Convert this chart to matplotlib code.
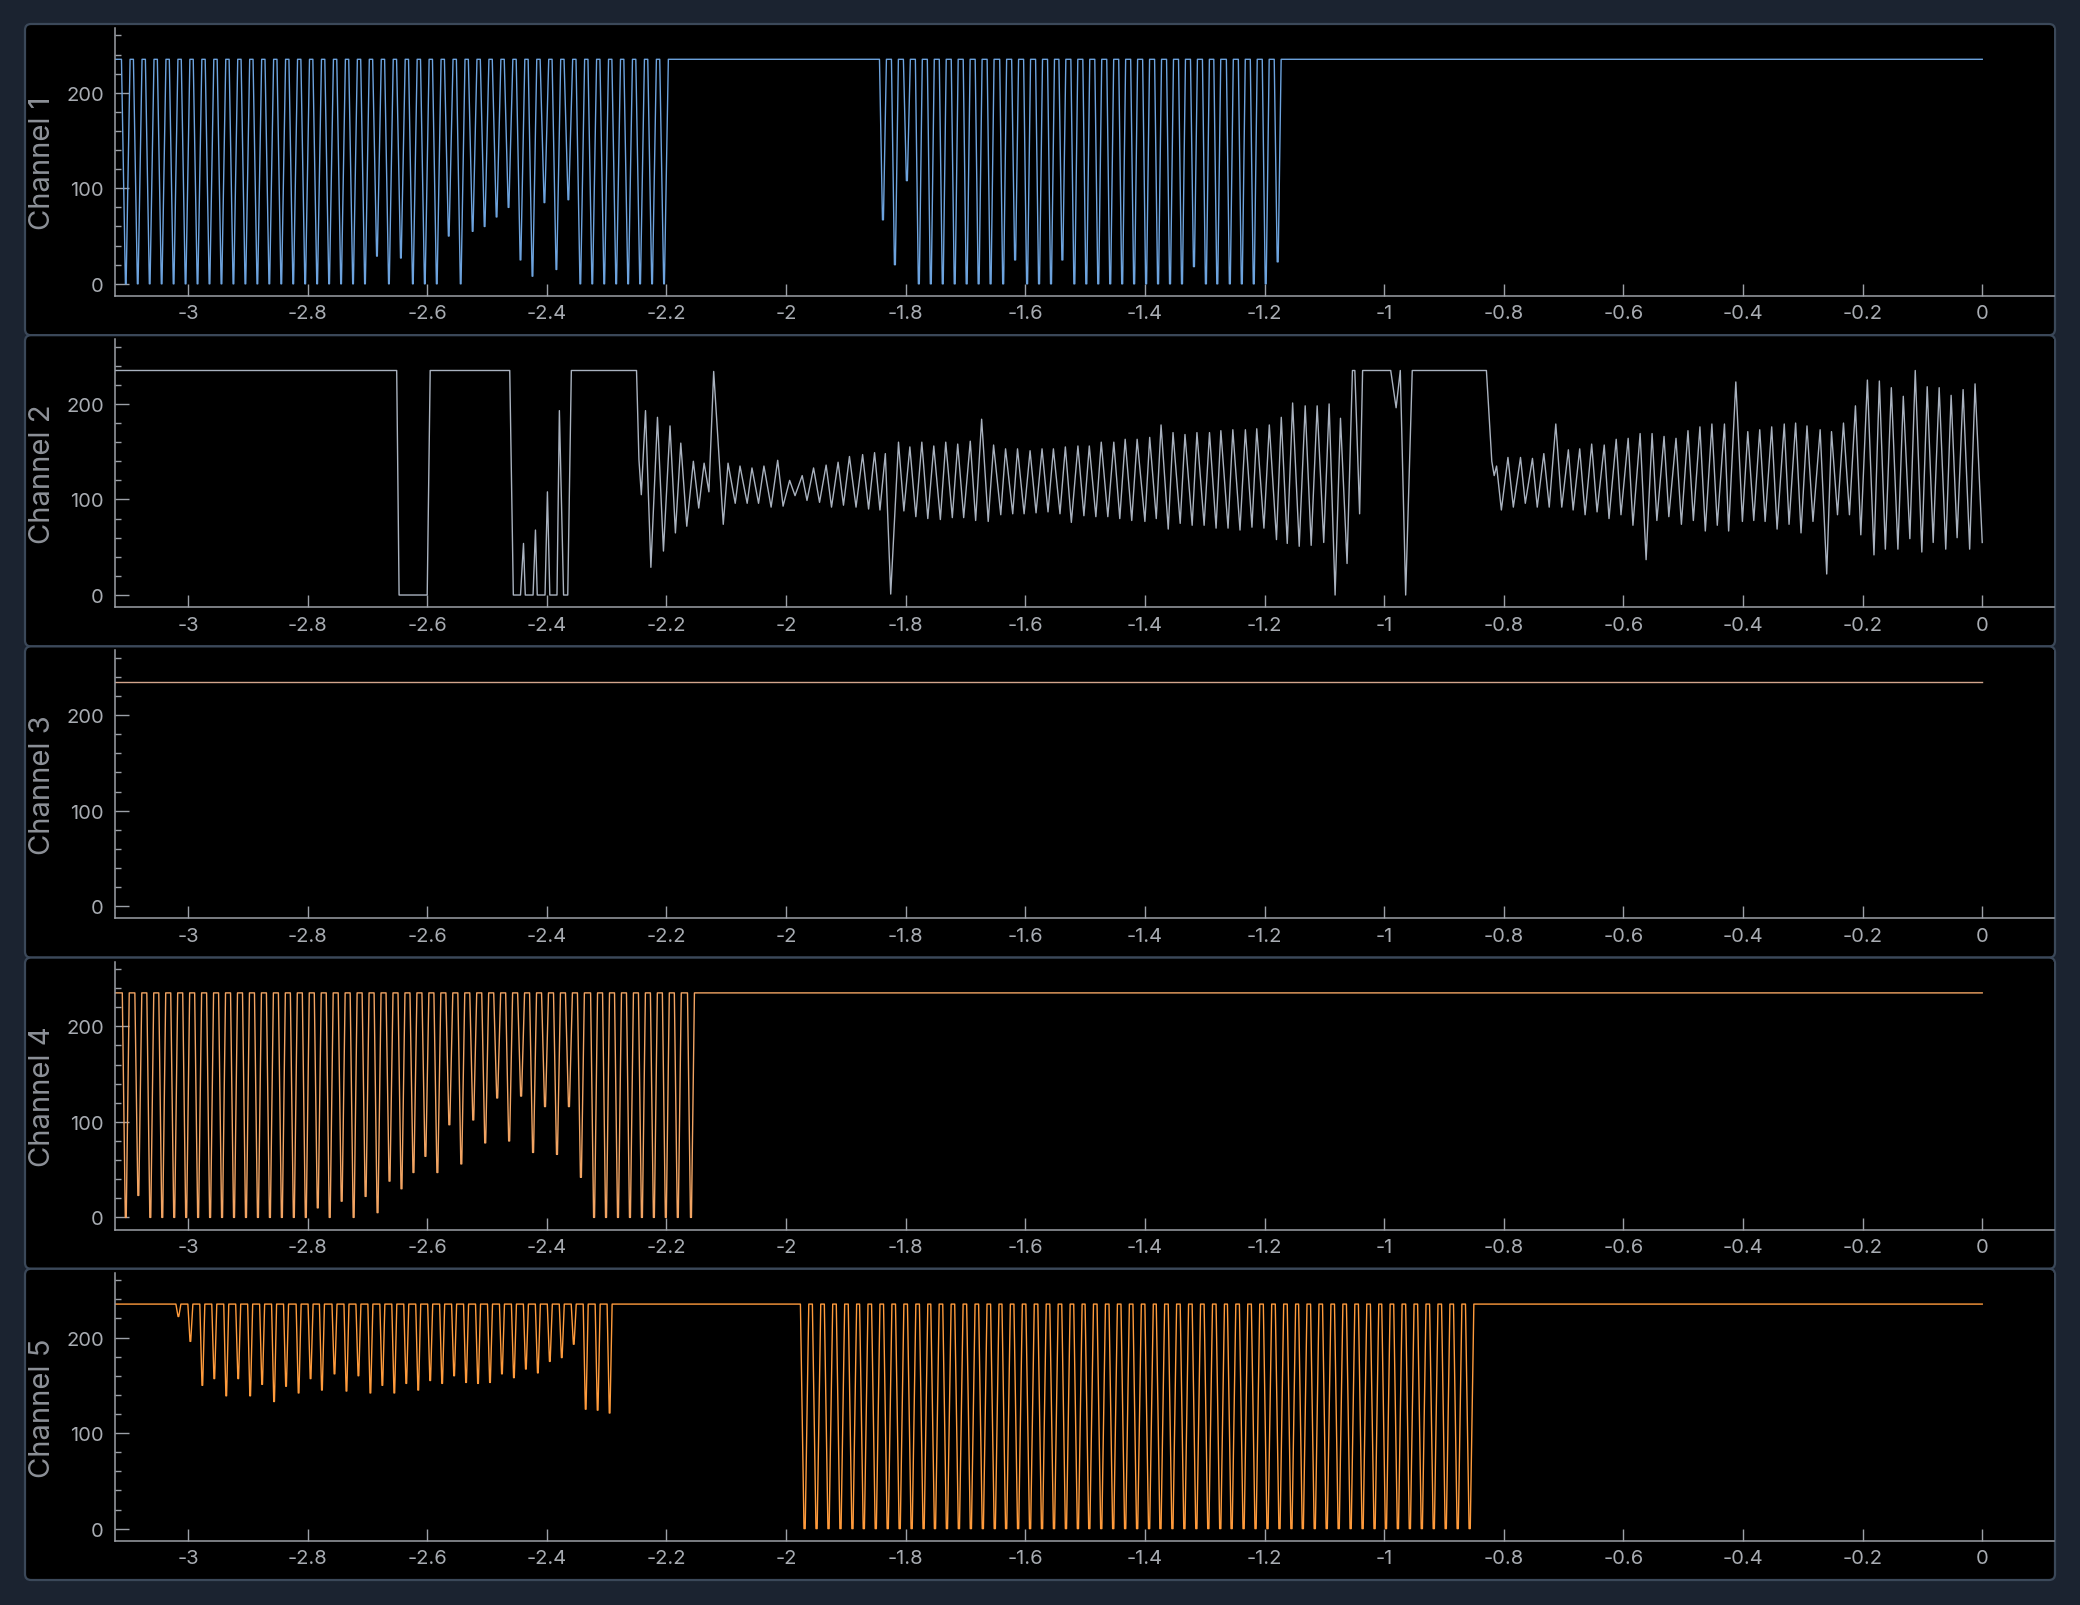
import numpy as np
import matplotlib
import matplotlib.pyplot as plt
from matplotlib.patches import FancyBboxPatch
from matplotlib.ticker import MultipleLocator, FuncFormatter
from matplotlib.transforms import IdentityTransform

plt.rcParams['font.family'] = ['Inter', 'DejaVu Sans']
plt.rcParams['axes.unicode_minus'] = False

# ---- data (time in s, value 0..255) ----
T_START, T_END = -3.122, 0.0
HIGH = 235

channel_names = ['Channel 1', 'Channel 2', 'Channel 3', 'Channel 4', 'Channel 5']
channel_colors = ['#6da3de', '#a9b2bf', '#d3a58c', '#f2a463', '#ff9b3c']

# channel 1: dips below the high level
ch1_dips_a = [-3.104, -3.084, -3.064, -3.044, -3.024, -3.004, -2.984, -2.964, -2.944, -2.924,
              -2.904, -2.884, -2.864, -2.844, -2.824, -2.804, -2.784, -2.764, -2.744, -2.724,
              -2.704, -2.684, -2.664, -2.644, -2.624, -2.604, -2.584, -2.564, -2.544, -2.524,
              -2.504, -2.484, -2.464, -2.444, -2.424, -2.404, -2.384, -2.364, -2.344, -2.324,
              -2.304, -2.284, -2.264, -2.244, -2.224, -2.204]
ch1_depth_a = [0, 0, 0, 0, 0, 0, 0, 0, 0, 0,
               0, 0, 0, 0, 0, 0, 0, 0, 0, 0,
               0, 29, 0, 27, 0, 0, 0, 50, 0, 55,
               60, 70, 80, 25, 8, 85, 15, 88, 0, 0,
               0, 0, 0, 0, 0, 0]
ch1_dips_b = [-1.838, -1.818, -1.798, -1.778, -1.758, -1.738, -1.718, -1.698, -1.678, -1.658,
              -1.637, -1.617, -1.597, -1.577, -1.557, -1.538, -1.518, -1.498, -1.478, -1.458,
              -1.438, -1.418, -1.398, -1.378, -1.358, -1.338, -1.318, -1.298, -1.279, -1.258,
              -1.238, -1.218, -1.198, -1.178]
ch1_depth_b = [67, 20, 108, 0, 0, 0, 0, 0, 0, 0,
               0, 25, 0, 0, 0, 25, 0, 0, 0, 0,
               0, 0, 0, 0, 0, 0, 18, 0, 0, 0,
               0, 0, 0, 23]

# channel 2: turning points of the trace
ch2_t = [-3.122, -2.651, -2.647, -2.600, -2.595, -2.462, -2.456, -2.444, -2.439, -2.436,
         -2.423, -2.419, -2.416, -2.403, -2.399, -2.395, -2.383, -2.379, -2.372, -2.365,
         -2.359, -2.250, -2.246, -2.242,
         -2.235, -2.226, -2.215, -2.205, -2.194, -2.185, -2.176, -2.166, -2.155, -2.146,
         -2.137, -2.129, -2.121, -2.105, -2.097, -2.085, -2.077, -2.065, -2.057, -2.046,
         -2.037, -2.025, -2.014, -2.005, -1.994, -1.985, -1.973, -1.965, -1.954, -1.944,
         -1.933, -1.924, -1.913, -1.904, -1.894, -1.883, -1.872, -1.862, -1.852, -1.843,
         -1.834, -1.825, -1.812, -1.803, -1.793, -1.783, -1.773, -1.763, -1.753, -1.742,
         -1.733, -1.722, -1.713, -1.703, -1.692, -1.683, -1.673, -1.662, -1.653, -1.641,
         -1.633, -1.621, -1.613, -1.602, -1.592, -1.582, -1.572, -1.562, -1.553, -1.542,
         -1.533, -1.523, -1.512, -1.502, -1.493, -1.482, -1.473, -1.462, -1.452, -1.442,
         -1.433, -1.422, -1.413, -1.400, -1.392, -1.381, -1.373, -1.361, -1.353, -1.341,
         -1.333, -1.321, -1.313, -1.301, -1.292, -1.281, -1.273, -1.261, -1.253, -1.241,
         -1.232, -1.221, -1.213, -1.201, -1.192, -1.180, -1.172, -1.162, -1.153, -1.142,
         -1.132, -1.122, -1.112, -1.101, -1.092, -1.082, -1.073, -1.062, -1.053, -1.049,
         -1.041, -1.036, -0.989, -0.980, -0.973, -0.964, -0.953, -0.829, -0.820, -0.816,
         -0.812, -0.804, -0.793, -0.784, -0.772, -0.764, -0.752, -0.744, -0.733, -0.724,
         -0.713, -0.703, -0.692, -0.684, -0.673, -0.664, -0.653, -0.644, -0.632, -0.624,
         -0.612, -0.604, -0.592, -0.584, -0.572, -0.562, -0.552, -0.544, -0.532, -0.524,
         -0.512, -0.503, -0.492, -0.483, -0.472, -0.463, -0.452, -0.443, -0.431, -0.424,
         -0.412, -0.401, -0.392, -0.382, -0.372, -0.363, -0.352, -0.343, -0.331, -0.323,
         -0.312, -0.303, -0.293, -0.283, -0.271, -0.260, -0.252, -0.242, -0.232, -0.222,
         -0.212, -0.203, -0.192, -0.181, -0.172, -0.162, -0.152, -0.141, -0.132, -0.121,
         -0.112, -0.101, -0.092, -0.082, -0.072, -0.061, -0.052, -0.042, -0.032, -0.021,
         -0.012, 0.0]
ch2_v = [235, 235, 0, 0, 235, 235, 0, 0, 54, 0,
         0, 68, 0, 0, 108, 0, 0, 193, 0, 0,
         235, 235, 142, 105,
         193, 29, 186, 46, 177, 65, 159, 72, 140, 91,
         138, 108, 234, 74, 138, 96, 135, 96, 133, 96,
         135, 92, 141, 93, 120, 104, 125, 99, 133, 97,
         136, 92, 139, 94, 145, 92, 147, 90, 149, 89,
         148, 1, 160, 88, 155, 82, 160, 80, 156, 79,
         160, 81, 158, 81, 161, 78, 184, 77, 157, 84,
         153, 85, 153, 85, 151, 86, 153, 87, 153, 85,
         155, 76, 156, 83, 156, 82, 160, 82, 160, 80,
         163, 78, 163, 77, 165, 80, 178, 69, 170, 75,
         168, 73, 170, 73, 170, 70, 172, 70, 173, 68,
         173, 71, 174, 70, 178, 58, 186, 54, 201, 51,
         198, 52, 198, 55, 200, 0, 185, 33, 235, 235,
         85, 235, 235, 196, 235, 0, 235, 235, 140, 125,
         135, 89, 144, 92, 144, 96, 143, 92, 148, 92,
         179, 92, 152, 89, 153, 84, 158, 87, 157, 80,
         163, 84, 164, 73, 169, 37, 169, 78, 166, 82,
         164, 74, 172, 78, 176, 67, 179, 73, 179, 67,
         223, 77, 171, 78, 173, 77, 176, 69, 179, 74,
         180, 65, 177, 77, 173, 22, 171, 84, 180, 84,
         198, 63, 225, 42, 224, 48, 217, 48, 208, 59,
         235, 45, 218, 55, 217, 48, 209, 60, 215, 48,
         221, 55]

# channel 3: steady at the high level
ch3_t = [-3.122, 0.0]
ch3_v = [235, 235]

# channel 4
ch4_dips = [-3.104, -3.083, -3.063, -3.043, -3.023, -3.003, -2.983, -2.963, -2.943, -2.923,
            -2.903, -2.883, -2.863, -2.843, -2.823, -2.803, -2.783, -2.763, -2.743, -2.723,
            -2.703, -2.683, -2.663, -2.643, -2.623, -2.603, -2.583, -2.563, -2.543, -2.523,
            -2.503, -2.483, -2.463, -2.443, -2.423, -2.403, -2.383, -2.363, -2.343, -2.321,
            -2.301, -2.281, -2.261, -2.241, -2.221, -2.201, -2.181, -2.159]
ch4_depth = [0, 23, 0, 0, 0, 0, 0, 0, 0, 0,
             0, 0, 0, 0, 0, 0, 10, 0, 17, 0,
             22, 5, 38, 30, 47, 64, 47, 97, 56, 102,
             78, 125, 80, 127, 68, 116, 66, 116, 42, 0,
             0, 0, 0, 0, 0, 0, 0, 0]

# channel 5
ch5_dips_a = [-3.016, -2.996, -2.976, -2.956, -2.936, -2.916, -2.896, -2.876, -2.856, -2.836,
              -2.815, -2.795, -2.776, -2.755, -2.735, -2.715, -2.695, -2.675, -2.655, -2.635,
              -2.615, -2.595, -2.575, -2.555, -2.535, -2.515, -2.495, -2.475, -2.455, -2.435,
              -2.415, -2.395, -2.375, -2.355, -2.335, -2.315, -2.295]
ch5_depth_a = [222, 196, 150, 157, 139, 157, 139, 151, 133, 149,
               142, 157, 145, 162, 144, 160, 142, 150, 142, 152,
               145, 155, 152, 160, 153, 152, 153, 162, 158, 167,
               163, 175, 179, 193, 125, 124, 121]
ch5_dips_b = [-1.969, -1.949, -1.929, -1.909, -1.889, -1.870, -1.850, -1.830, -1.810, -1.790,
              -1.770, -1.751, -1.731, -1.711, -1.691, -1.671, -1.651, -1.632, -1.612, -1.592,
              -1.572, -1.552, -1.532, -1.512, -1.493, -1.473, -1.453, -1.433, -1.413, -1.393,
              -1.374, -1.354, -1.334, -1.314, -1.294, -1.274, -1.255, -1.235, -1.215, -1.195,
              -1.175, -1.155, -1.136, -1.116, -1.096, -1.076, -1.056, -1.036, -1.016, -0.997,
              -0.977, -0.957, -0.937, -0.917, -0.897, -0.877, -0.857]
ch5_depth_b = [0] * len(ch5_dips_b)


def dip_trace(segments):
    # segments: (dip times, dip values, half width, flat bottom half width)
    t, v = [T_START], [HIGH]
    for times, depths, half, flat in segments:
        for tc, d in zip(times, depths):
            t += [tc - half, tc - flat, tc + flat, tc + half]
            v += [HIGH, d, d, HIGH]
    t.append(T_END)
    v.append(HIGH)
    return np.array(t), np.array(v)


traces = [
    dip_trace([(ch1_dips_a, ch1_depth_a, 0.0072, 0.0006),
               (ch1_dips_b, ch1_depth_b, 0.0058, 0.0008)]),
    (np.array(ch2_t), np.array(ch2_v)),
    (np.array(ch3_t), np.array(ch3_v)),
    dip_trace([(ch4_dips, ch4_depth, 0.0058, 0.0008)]),
    dip_trace([(ch5_dips_a, ch5_depth_a, 0.0042, 0.0006),
               (ch5_dips_b, ch5_depth_b, 0.0070, 0.0010)]),
]

# ---- layout (pixels) ----
W, H = 2080, 1606
BG = '#1b2330'
AXC = '#9ca0a7'
fig = plt.figure(figsize=(W / 100, H / 100), dpi=100, facecolor=BG)


def fmt_x(x, pos):
    s = f'{round(x, 1):g}'
    return '0' if s == '-0' else s


panel_h = 311.2
for i, (name, color, (t, v)) in enumerate(zip(channel_names, channel_colors, traces)):
    top = 25 + panel_h * i
    box = FancyBboxPatch((25, H - top - panel_h), 2030, panel_h,
                         boxstyle='round,pad=0,rounding_size=6',
                         transform=IdentityTransform(), fc='black', ec='#3b4859', lw=1.6, zorder=0)
    fig.add_artist(box)

    ax = fig.add_axes([115 / W, 1 - (top + 4 + 268) / H, 1939 / W, 268 / H])
    ax.set_facecolor('black')
    ax.plot(t, v, color=color, lw=1.0)

    ax.set_xlim(-3.122, 0.12)
    ax.set_ylim(-12.75, 267.75)
    ax.xaxis.set_major_locator(MultipleLocator(0.2))
    ax.yaxis.set_major_locator(MultipleLocator(100))
    ax.yaxis.set_minor_locator(MultipleLocator(20))
    ax.xaxis.set_major_formatter(FuncFormatter(fmt_x))

    for s in ['top', 'right']:
        ax.spines[s].set_visible(False)
    for s in ['left', 'bottom']:
        ax.spines[s].set_color(AXC)
        ax.spines[s].set_linewidth(1.1)

    ax.tick_params(axis='x', direction='in', length=5, width=1, color=AXC,
                   labelcolor='#a8acb2', labelsize=14.5, pad=6)
    ax.tick_params(axis='y', which='major', direction='in', length=10, width=1, color=AXC,
                   labelcolor='#a8acb2', labelsize=14.5, pad=8)
    ax.tick_params(axis='y', which='minor', direction='in', length=4, width=1, color=AXC)

    for tk in ax.xaxis.get_major_ticks():
        loc = tk.get_loc()
        if abs(loc - round(loc)) < 1e-6:
            tk.tick1line.set_markersize(9)

    fig.text(43 / W, 1 - (top + 4 + 134) / H, name, rotation=90, ha='center', va='center',
             fontsize=21, color='#8d9198')

fig.savefig('out.png', dpi=100, facecolor=BG)
